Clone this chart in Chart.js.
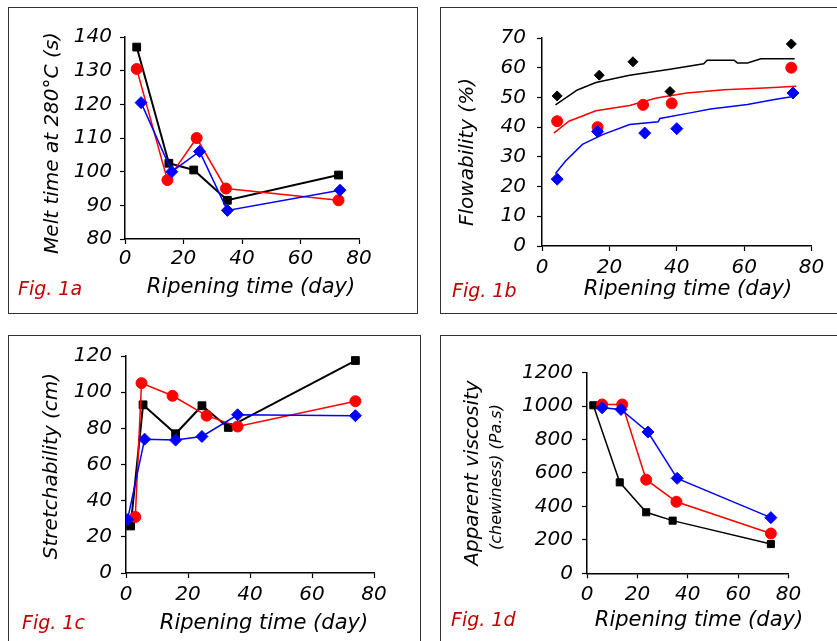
<!DOCTYPE html>
<html><head><meta charset="utf-8">
<script src="https://cdn.jsdelivr.net/npm/chart.js@4.4.1/dist/chart.umd.min.js"></script>
<style>
html,body{margin:0;padding:0;background:#fff;width:837px;height:641px;overflow:hidden;position:relative;font-family:'DejaVu Sans',sans-serif;}
.box{position:absolute;border:1.5px solid #333;box-sizing:border-box;}
canvas{position:absolute;}
.t{position:absolute;white-space:nowrap;font-style:italic;color:#000;line-height:1;transform:translate(-50%,-50%);}
.r{transform:translate(-50%,-50%) rotate(-90deg);}
.fig{position:absolute;white-space:nowrap;font-style:italic;color:#c00000;line-height:1;transform:translateY(-50%);font-size:19px;}
</style></head><body>
<div class="box" style="left:8px;top:7px;width:410px;height:307px"></div>
<div class="box" style="left:440px;top:7px;width:410px;height:307px"></div>
<div class="box" style="left:8px;top:335px;width:413px;height:320px"></div>
<div class="box" style="left:440px;top:335px;width:410px;height:320px"></div>

<canvas id="cA"></canvas>
<canvas id="cB"></canvas>
<canvas id="cC"></canvas>
<canvas id="cD"></canvas>

<div class="t r" style="left:51px;top:143px;font-size:20px">Melt time at 280°C (s)</div>
<div class="t" style="left:251px;top:286px;font-size:21px">Ripening time (day)</div>
<div class="fig" style="left:18px;top:288px">Fig. 1a</div>

<div class="t r" style="left:466px;top:152px;font-size:20px">Flowability (%)</div>
<div class="t" style="left:688px;top:288px;font-size:21px">Ripening time (day)</div>
<div class="fig" style="left:452px;top:290px">Fig. 1b</div>

<div class="t r" style="left:50px;top:466px;font-size:20px">Stretchability (cm)</div>
<div class="t" style="left:264px;top:622px;font-size:21px">Ripening time (day)</div>
<div class="fig" style="left:22px;top:622px">Fig. 1c</div>

<div class="t r" style="left:471px;top:473px;font-size:20px">Apparent viscosity</div>
<div class="t r" style="left:496px;top:477px;font-size:16px">(chewiness) (Pa.s)</div>
<div class="t" style="left:699px;top:619px;font-size:21px">Ripening time (day)</div>
<div class="fig" style="left:451px;top:619px">Fig. 1d</div>

<script>
// ---------- DATA ----------
const xTicks = [0, 20, 40, 60, 80];

// Fig 1a: Melt time at 280°C (s)
const aBlackX = [4, 15, 23.5, 35, 73];
const aBlackY = [137, 102.5, 100.5, 91.5, 99];
const aRedX = [4, 14.5, 24.5, 34.5, 73];
const aRedY = [130.5, 97.5, 110, 95, 91.5];
const aBlueX = [5.5, 16, 25.5, 35, 73.5];
const aBlueY = [120.5, 100, 106, 88.5, 94.5];

// Fig 1b: Flowability (%) - measured points
const bBlackX = [4.5, 17, 27, 38, 74];
const bBlackY = [50.5, 57.5, 62, 52, 68];
const bRedX = [4.5, 16.5, 30, 38.5, 74];
const bRedY = [42, 40, 47.5, 48, 60];
const bBlueX = [4.5, 16.5, 30.5, 40, 74.5];
const bBlueY = [22.5, 38.5, 38, 39.5, 51.5];
// Fig 1b: fitted curves
const bBlackFitX = [4, 10.5, 16, 26, 38, 48, 49, 57, 58, 61, 65, 75];
const bBlackFitY = [47.5, 52.5, 55, 57.5, 59.5, 61.3, 62.5, 62.5, 61.6, 61.6, 63, 63];
const bRedFitX = [3.5, 8, 16, 26, 34, 43, 54, 66, 75.5];
const bRedFitY = [38, 42, 45.5, 47.3, 49.8, 51.5, 52.6, 53.2, 53.8];
const bBlueFitX = [4, 7, 12, 18, 26, 34.5, 35, 44, 50, 61, 69, 75];
const bBlueFitY = [24.4, 28.6, 34.2, 37.5, 40.9, 41.8, 42.9, 44.8, 46.1, 47.6, 49.3, 50.4];

// Fig 1c: Stretchability (cm)
const cBlackX = [1.5, 5.5, 16, 24.5, 33, 74];
const cBlackY = [26, 93, 77, 92.5, 80.5, 117.5];
const cRedX = [3, 5, 15, 26, 36, 74];
const cRedY = [31, 105, 98, 87, 81, 95];
const cBlueX = [0.5, 6, 16, 24.5, 36, 74];
const cBlueY = [29.5, 74, 73.5, 75.5, 87.5, 87];

// Fig 1d: Apparent viscosity (chewiness) (Pa.s)
const dBlackX = [2.5, 13, 23.5, 34, 73];
const dBlackY = [1005, 544, 365, 315, 175];
const dRedX = [6, 14, 23.5, 35.5, 73];
const dRedY = [1010, 1010, 560, 428, 238];
const dBlueX = [6, 13.5, 24.2, 35.8, 73];
const dBlueY = [990, 980, 845, 568, 333];

// ---------- HELPERS ----------
const pts = (xs, ys) => xs.map((x, i) => ({x: x, y: ys[i]}));
const TICK_FONT = {family: "'DejaVu Sans', sans-serif", size: 20, style: 'italic', lineHeight: 1.2};
const BLACK = '#000000', RED = '#ff0000', BLUE = '#0000ff';
const plain = v => String(v);

function series(xs, ys, color, style, radius, lw, line) {
  return {
    data: pts(xs, ys), borderColor: color, backgroundColor: color,
    pointBackgroundColor: color, pointBorderColor: color, pointBorderWidth: 1,
    pointStyle: style, pointRadius: radius, pointHoverRadius: radius,
    borderWidth: lw, showLine: line, tension: 0
  };
}
function curve(xs, ys, color) {
  return {
    data: pts(xs, ys), borderColor: color, backgroundColor: color,
    pointRadius: 0, pointHoverRadius: 0, borderWidth: 1.5, showLine: true, tension: 0
  };
}

function makePanel(id, box, area, yOpt, xPad, yPad, datasets) {
  const cv = document.getElementById(id);
  cv.width = box.w; cv.height = box.h;
  cv.style.left = box.x + 'px'; cv.style.top = box.y + 'px';
  const yw = area.l - box.x;
  const xh = box.y + box.h - area.b;
  const grid = {drawOnChartArea: false, drawTicks: true, tickLength: 5, color: '#000', tickWidth: 1.2};
  const border = {color: '#000', width: 1.5};
  new Chart(cv, {
    type: 'scatter',
    data: {datasets: datasets},
    options: {
      responsive: false, animation: false, devicePixelRatio: 1,
      layout: {padding: {left: 0, bottom: 0, top: area.t - box.y, right: box.x + box.w - area.r}},
      plugins: {legend: {display: false}, tooltip: {enabled: false}},
      events: [],
      scales: {
        x: {
          type: 'linear', min: 0, max: 80,
          afterBuildTicks: s => { s.ticks = xTicks.map(v => ({value: v})); },
          ticks: {color: '#000', font: TICK_FONT, padding: xPad, maxRotation: 0, autoSkip: false, callback: plain},
          grid: grid, border: border,
          afterFit: s => { s.height = xh; }
        },
        y: {
          type: 'linear', min: yOpt.min, max: yOpt.max,
          ticks: {stepSize: yOpt.step, color: '#000', font: TICK_FONT, padding: yPad, autoSkip: false, callback: plain},
          grid: grid, border: border,
          afterFit: s => { s.width = yw; }
        }
      }
    }
  });
}

// ---------- PANELS ----------
makePanel('cA', {x: 8, y: 7, w: 410, h: 307}, {l: 125, r: 359, t: 37, b: 239},
  {min: 80, max: 140, step: 10}, 3, 8, [
    series(aBlueX, aBlueY, BLUE, 'rectRot', 6, 1.5, true),
    series(aRedX, aRedY, RED, 'circle', 5.5, 1.5, true),
    series(aBlackX, aBlackY, BLACK, 'rect', 5.5, 2, true)
  ]);

makePanel('cB', {x: 440, y: 7, w: 397, h: 307}, {l: 542, r: 811.5, t: 38, b: 246},
  {min: 0, max: 70, step: 10}, 5, 11, [
    series(bBlueX, bBlueY, BLUE, 'rectRot', 6, 1, false),
    series(bRedX, bRedY, RED, 'circle', 5.5, 1, false),
    series(bBlackX, bBlackY, BLACK, 'rectRot', 5, 1, false),
    curve(bBlueFitX, bBlueFitY, BLUE),
    curve(bRedFitX, bRedFitY, RED),
    curve(bBlackFitX, bBlackFitY, BLACK)
  ]);

makePanel('cC', {x: 8, y: 335, w: 413, h: 306}, {l: 126, r: 374, t: 356, b: 573},
  {min: 0, max: 120, step: 20}, 5, 9, [
    series(cBlueX, cBlueY, BLUE, 'rectRot', 6, 1.5, true),
    series(cRedX, cRedY, RED, 'circle', 5.5, 1.5, true),
    series(cBlackX, cBlackY, BLACK, 'rect', 5.5, 2, true)
  ]);

makePanel('cD', {x: 440, y: 335, w: 397, h: 306}, {l: 587, r: 788.5, t: 372.7, b: 573.3},
  {min: 0, max: 1200, step: 200}, 4, 9, [
    series(dBlueX, dBlueY, BLUE, 'rectRot', 6, 1.5, true),
    series(dRedX, dRedY, RED, 'circle', 5.5, 1.5, true),
    series(dBlackX, dBlackY, BLACK, 'rect', 5, 1.5, true)
  ]);
</script>
</body></html>
